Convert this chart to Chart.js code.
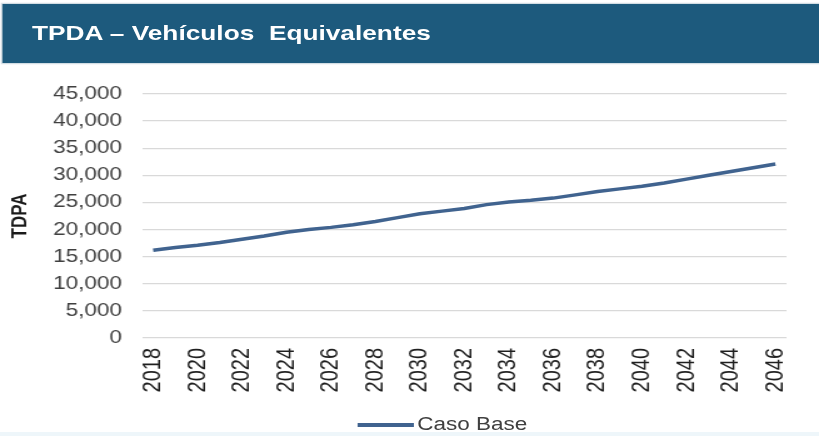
<!DOCTYPE html>
<html>
<head>
<meta charset="utf-8">
<title>TPDA – Vehículos Equivalentes</title>
<script src="https://cdn.jsdelivr.net/npm/chart.js@4.4.1/dist/chart.umd.min.js"></script>
<style>
  html, body { margin: 0; padding: 0; background: #fff; }
  body { width: 819px; height: 436px; overflow: hidden; position: relative; font-family: "Liberation Sans", Arial, sans-serif; }
  /* everything is laid out 655 wide and stretched to the 819px page */
  #wide { position: absolute; left: 0; top: 0; width: 655px; height: 436px; transform: scaleX(1.2504); transform-origin: 0 0; }
  #head { position: absolute; left: 1.6px; top: 4px; width: 653.4px; height: 59px; background: #1d5a7d; box-shadow: 0 0 1px 1px #c9d6de; }
  #head span { position: absolute; left: 24px; top: 18px; color: #fff; font-weight: bold; font-size: 21px; line-height: 1; white-space: pre; }
  #chart { position: absolute; left: 0; top: 0; }
  #legend { position: absolute; left: 285.6px; top: 414px; font-size: 18px; color: #404040; display: flex; align-items: center; }
  #legend i { display: inline-block; width: 45px; height: 4px; margin-right: 3px; }
  #foot { position: absolute; left: 0; top: 432px; width: 655px; height: 4px; background: #eef6fa; }
</style>
</head>
<body>
<div id="wide">
  <canvas id="chart" width="655" height="436"></canvas>
  <div id="head"><span>TPDA – Vehículos  Equivalentes</span></div>
  <div id="legend"></div>
  <div id="foot"></div>
</div>
<script>
// años del horizonte de proyección
const years = ['2018', '2019', '2020', '2021', '2022', '2023', '2024', '2025', '2026', '2027',
               '2028', '2029', '2030', '2031', '2032', '2033', '2034', '2035', '2036', '2037',
               '2038', '2039', '2040', '2041', '2042', '2043', '2044', '2045', '2046'];

// TPDA en vehículos equivalentes, escenario base
const casoBase = [16200, 16700, 17100, 17600, 18200, 18800, 19500, 20000, 20400, 20900,
                  21500, 22200, 22900, 23400, 23900, 24600, 25100, 25400, 25800, 26400,
                  27000, 27500, 28000, 28600, 29300, 30000, 30700, 31400, 32100];

const seriesNames = ['Caso Base'];
const yMax = 45000;
const yStep = 5000;

const FONT = '"Liberation Sans", Arial, sans-serif';
const lineColor = '#40638f';

const chart = new Chart(document.getElementById('chart'), {
  type: 'line',
  data: {
    labels: years,
    datasets: [{
      label: seriesNames[0],
      data: casoBase,
      borderColor: lineColor,
      backgroundColor: lineColor,
      borderWidth: 3.5,
      pointRadius: 0,
      tension: 0,
      fill: false
    }]
  },
  options: {
    responsive: false,
    animation: false,
    layout: { padding: { left: 0, right: 26, top: 94, bottom: 0 } },
    plugins: {
      legend: { display: false },
      tooltip: { enabled: false }
    },
    scales: {
      x: {
        offset: true,
        grid: { display: false, drawTicks: false },
        border: { display: false },
        ticks: {
          autoSkip: false,
          minRotation: 90,
          maxRotation: 90,
          padding: 10,
          color: '#1f1f1f',
          font: { family: FONT, size: 20 },
          // una etiqueta cada dos años
          callback: (v, i) => (i % 2 === 0 ? years[i] : '')
        },
        afterFit: s => { s.height = 98; }
      },
      y: {
        min: 0,
        max: yMax,
        grid: { color: '#d9d9d9', lineWidth: 1.3, drawTicks: false },
        border: { display: false },
        ticks: {
          stepSize: yStep,
          padding: 16,
          color: '#404040',
          font: { family: FONT, size: 18 },
          callback: v => v.toLocaleString('en-US')
        },
        title: {
          display: true,
          text: 'TDPA',
          color: '#1a1a1a',
          font: { family: FONT, size: 17, weight: 'bold' },
          padding: { top: 6, bottom: 0 }
        },
        afterFit: s => { s.width = 113.6; }
      }
    }
  }
});

// leyenda al pie, armada con las series del gráfico
const legendBox = document.getElementById('legend');
chart.data.datasets.forEach(ds => {
  const sw = document.createElement('i');
  sw.style.background = ds.borderColor;
  const tx = document.createElement('span');
  tx.textContent = ds.label;
  legendBox.appendChild(sw);
  legendBox.appendChild(tx);
});
</script>
</body>
</html>
